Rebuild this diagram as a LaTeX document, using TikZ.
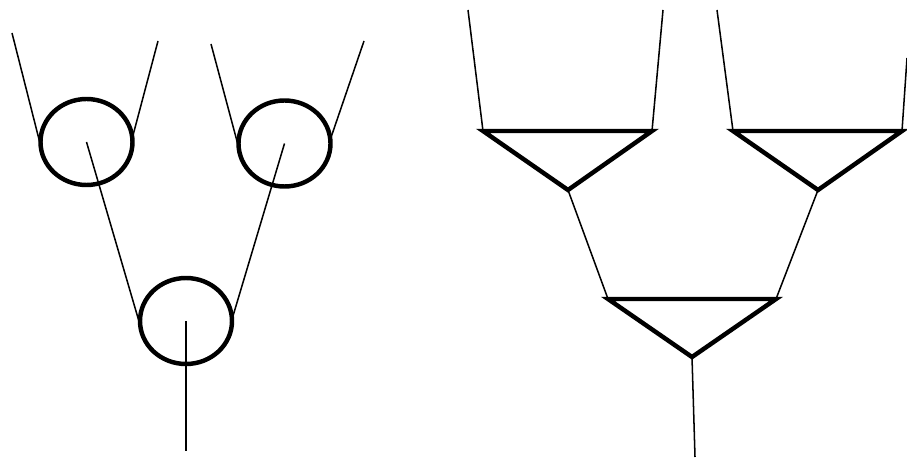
\documentclass[tikz,border=0pt]{standalone}
\usetikzlibrary{shapes.geometric}

\begin{document}
\begin{tikzpicture}[x=0.03cm,y=-0.03cm,
  wire/.style={line width=1.3pt},
  cell/.style={draw,ellipse,line width=3.8pt,inner sep=0pt,outer sep=0pt,
    minimum width=2.76cm,minimum height=2.58cm},
  tri/.style={line width=3.8pt}]
  \useasboundingbox (0,0) rectangle (907,459);
  % circles
  \node[cell] (cl) at (86.5,142) {};
  \node[cell] (cr) at (284.5,143.5) {};
  \node[cell] (cb) at (186,321) {};
  \coordinate (cl1) at (12,33);
  \coordinate (cl2) at (158,41);
  \coordinate (cr1) at (211,44);
  \coordinate (cr2) at (364,41);
  \coordinate (cout) at (186,451);
  \draw[wire] (cl1)--(cl.185);
  \draw[wire] (cl2)--(cl.5);
  \draw[wire] (cr1)--(cr.185);
  \draw[wire] (cr2)--(cr.5);
  \draw[wire] (cl.center)--(cb.186);
  \draw[wire] (cr.center)--(cb.2);
  \draw[wire] (cb.center)--(cout);
  % triangles
  \coordinate (ta) at (483,131);
  \coordinate (tb) at (652,131);
  \coordinate (tc) at (568,190);
  \coordinate (ua) at (733,131);
  \coordinate (ub) at (902,131);
  \coordinate (uc) at (818,190);
  \coordinate (va) at (608,299);
  \coordinate (vb) at (776,299);
  \coordinate (vc) at (692,357);
  \draw[tri] (ta)--(tb)--(tc)--cycle;
  \draw[tri] (ua)--(ub)--(uc)--cycle;
  \draw[tri] (va)--(vb)--(vc)--cycle;
  \coordinate (ta1) at (468,10);
  \coordinate (tb1) at (663,10);
  \coordinate (ua1) at (717,10);
  \coordinate (ub1) at (907,58);
  \coordinate (vout) at (695,457);
  \draw[wire] (ta1)--(ta);
  \draw[wire] (tb1)--(tb);
  \draw[wire] (ua1)--(ua);
  \draw[wire] (ub1)--(ub);
  \draw[wire] (tc)--(va);
  \draw[wire] (uc)--(vb);
  \draw[wire] (vc)--(vout);
\end{tikzpicture}
\end{document}
